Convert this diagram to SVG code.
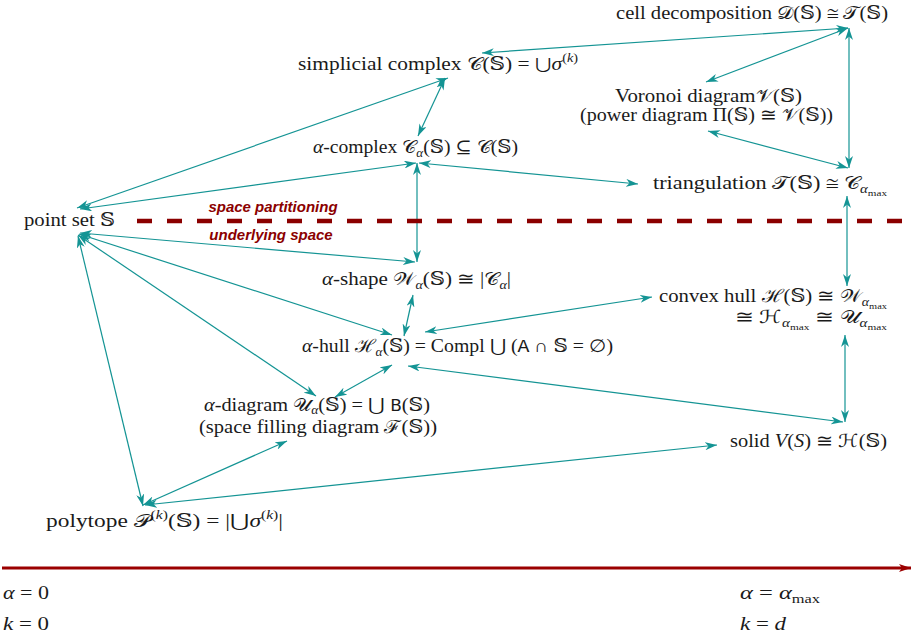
<svg xmlns="http://www.w3.org/2000/svg" width="913" height="638" viewBox="0 0 913 638">
<defs>
<style>
.t{font-family:"Liberation Serif","DejaVu Serif",serif;font-size:18px;fill:#1a1a1a}
.i{font-style:italic}
.sb{font-size:12px}
.ss{font-size:9px}
.red{font-family:"Liberation Sans",Arial,sans-serif;font-size:15px;font-weight:bold;font-style:italic;fill:#8b0000}
.c{fill:none;stroke:#149494;stroke-width:1.2;marker-start:url(#ah);marker-end:url(#ah)}
</style>
<marker id="ah" viewBox="0 0 12 8" refX="12" refY="4" markerWidth="12" markerHeight="8" markerUnits="userSpaceOnUse" orient="auto-start-reverse">
<path d="M0,0 L12,4 L0,8 L3.5,4 z" fill="#149494"/>
</marker>
<marker id="rh" viewBox="0 0 12 8" refX="12" refY="4" markerWidth="12" markerHeight="8" markerUnits="userSpaceOnUse" orient="auto">
<path d="M0,0 L12,4 L0,8 L3,4 z" fill="#9b0000"/>
</marker>
</defs>

<g id="connectors">
<line class="c" x1="77" y1="208" x2="448" y2="78"/>
<line class="c" x1="80" y1="209" x2="416" y2="163"/>
<line class="c" x1="482" y1="53" x2="848" y2="28"/>
<line class="c" x1="445" y1="78" x2="418" y2="136"/>
<line class="c" x1="419" y1="163" x2="638" y2="184"/>
<line class="c" x1="417" y1="163" x2="417" y2="262"/>
<line class="c" x1="848" y1="28" x2="706" y2="82"/>
<line class="c" x1="708" y1="131" x2="848" y2="168"/>
<line class="c" x1="849" y1="28" x2="849" y2="168"/>
<line class="c" x1="847" y1="196" x2="847" y2="286"/>
<line class="c" x1="845" y1="335" x2="845" y2="422"/>
<line class="c" x1="80" y1="233" x2="415" y2="262"/>
<line class="c" x1="79" y1="234" x2="392" y2="335"/>
<line class="c" x1="413" y1="295" x2="404" y2="336"/>
<line class="c" x1="425" y1="332" x2="652" y2="297"/>
<line class="c" x1="78" y1="235" x2="316" y2="396"/>
<line class="c" x1="392" y1="365" x2="335" y2="397"/>
<line class="c" x1="408" y1="366" x2="843" y2="422"/>
<line class="c" x1="78" y1="236" x2="143" y2="506"/>
<line class="c" x1="143" y1="505" x2="287" y2="441"/>
<line class="c" x1="145" y1="505" x2="717" y2="445"/>
</g>

<g id="partition">
<line x1="137" y1="221" x2="913" y2="221" stroke="#8b0000" stroke-width="4.5" stroke-dasharray="15 15"/>
<text class="red" x="273" y="212" text-anchor="middle">space partitioning</text>
<text class="red" x="271" y="240" text-anchor="middle">underlying space</text>
</g>

<g id="axis">
<line x1="2" y1="568" x2="911" y2="568" stroke="#9b0000" stroke-width="3" marker-end="url(#rh)"/>
<text class="t" x="3" y="599" textLength="46" lengthAdjust="spacingAndGlyphs"><tspan class="i">α</tspan> = 0</text>
<text class="t" x="3" y="630" textLength="46" lengthAdjust="spacingAndGlyphs"><tspan class="i">k</tspan> = 0</text>
<text class="t" x="740" y="599" textLength="80" lengthAdjust="spacingAndGlyphs"><tspan class="i">α</tspan> = <tspan class="i">α</tspan><tspan class="sb" dy="4">max</tspan></text>
<text class="t" x="740" y="630" textLength="46" lengthAdjust="spacingAndGlyphs"><tspan class="i">k</tspan> = <tspan class="i">d</tspan></text>
</g>

<g id="cell-decomposition">
<text class="t" x="616" y="19" textLength="272" lengthAdjust="spacingAndGlyphs">cell decomposition 𝒟(𝕊) ≅ 𝒯(𝕊)</text>
</g>

<g id="simplicial-complex">
<text class="t" x="298" y="70" textLength="280" lengthAdjust="spacingAndGlyphs">simplicial complex 𝒞(𝕊) = ⋃<tspan class="i">σ</tspan><tspan class="sb" dy="-8">(<tspan class="i">k</tspan>)</tspan></text>
</g>

<g id="voronoi">
<text class="t" x="615" y="102" textLength="187" lengthAdjust="spacingAndGlyphs">Voronoi diagram𝒱(𝕊)</text>
<text class="t" x="580" y="121" textLength="253" lengthAdjust="spacingAndGlyphs">(power diagram Π(𝕊) ≅ 𝒱(𝕊))</text>
</g>

<g id="alpha-complex">
<text class="t" x="313" y="153" textLength="205" lengthAdjust="spacingAndGlyphs"><tspan class="i">α</tspan>-complex 𝒞<tspan class="sb i" dy="4">α</tspan><tspan dy="-4">(𝕊) ⊆ 𝒞(𝕊)</tspan></text>
</g>

<g id="triangulation">
<text class="t" x="653" y="189" textLength="234" lengthAdjust="spacingAndGlyphs">triangulation 𝒯(𝕊) ≅ 𝒞<tspan class="sb i" dy="4">α</tspan><tspan class="ss" dy="3">max</tspan></text>
</g>

<g id="point-set">
<text class="t" x="24" y="226" textLength="91" lengthAdjust="spacingAndGlyphs">point set 𝕊</text>
</g>

<g id="alpha-shape">
<text class="t" x="322" y="285" textLength="189" lengthAdjust="spacingAndGlyphs"><tspan class="i">α</tspan>-shape 𝒲<tspan class="sb i" dy="4">α</tspan><tspan dy="-4">(𝕊) ≅ |𝒞</tspan><tspan class="sb i" dy="4">α</tspan><tspan dy="-4">|</tspan></text>
</g>

<g id="convex-hull">
<text class="t" x="659" y="302" textLength="228" lengthAdjust="spacingAndGlyphs">convex hull ℋ(𝕊) ≅ 𝒲<tspan class="sb i" dy="4">α</tspan><tspan class="ss" dy="3">max</tspan></text>
<text class="t" x="735" y="323" textLength="152" lengthAdjust="spacingAndGlyphs">≅ ℋ<tspan class="sb i" dy="4">α</tspan><tspan class="ss" dy="3">max</tspan><tspan dy="-7"> ≅ 𝒰</tspan><tspan class="sb i" dy="4">α</tspan><tspan class="ss" dy="3">max</tspan></text>
</g>

<g id="alpha-hull">
<text class="t" x="302" y="352" textLength="311" lengthAdjust="spacingAndGlyphs"><tspan class="i">α</tspan>-hull ℋ<tspan class="sb i" dy="4">α</tspan><tspan dy="-4">(𝕊) = Compl ⋃ (</tspan><tspan style="font-family:'Liberation Mono',monospace">A</tspan> ∩ 𝕊 = ∅)</text>
</g>

<g id="alpha-diagram">
<text class="t" x="204" y="411" textLength="226" lengthAdjust="spacingAndGlyphs"><tspan class="i">α</tspan>-diagram 𝒰<tspan class="sb i" dy="3">α</tspan><tspan dy="-3">(𝕊) = ⋃ </tspan><tspan style="font-family:'DejaVu Sans',sans-serif;font-size:15px">B</tspan>(𝕊)</text>
<text class="t" x="199" y="433" textLength="238" lengthAdjust="spacingAndGlyphs">(space filling diagram ℱ(𝕊))</text>
</g>

<g id="solid">
<text class="t" x="730" y="447" textLength="157" lengthAdjust="spacingAndGlyphs">solid <tspan class="i">V</tspan>(<tspan class="i">S</tspan>) ≅ ℋ(𝕊)</text>
</g>

<g id="polytope">
<text class="t" x="46" y="527" textLength="237" lengthAdjust="spacingAndGlyphs">polytope 𝒫<tspan class="sb" dy="-8">(<tspan class="i">k</tspan>)</tspan><tspan dy="8">(𝕊) = |⋃</tspan><tspan class="i">σ</tspan><tspan class="sb" dy="-8">(<tspan class="i">k</tspan>)</tspan><tspan dy="8">|</tspan></text>
</g>
</svg>
